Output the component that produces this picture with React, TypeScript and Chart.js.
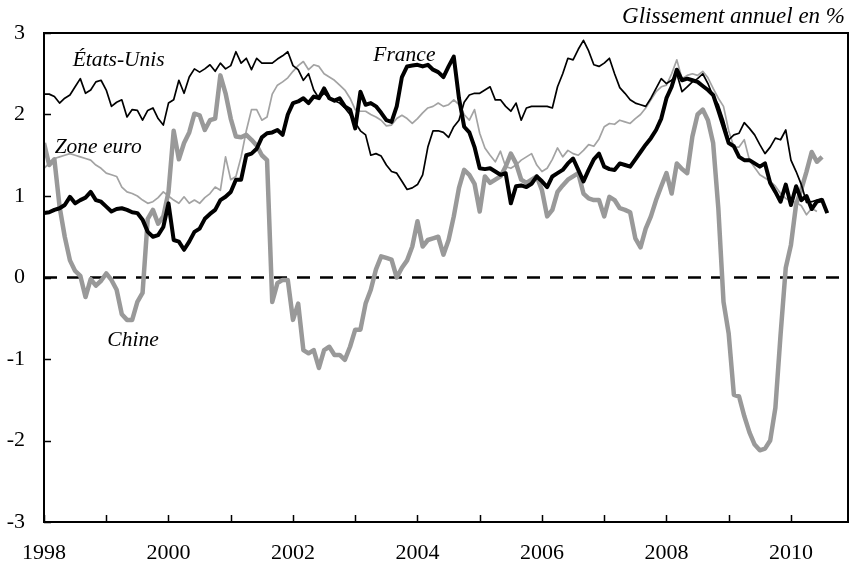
import React, { useEffect, useRef } from "react";
import { Chart, registerables } from "chart.js";

Chart.register(...registerables);

// ---- data (monthly, Jan 1998 onward) ----
const START_YEAR = 1998;
const AXIS_MAX_YEAR = 1998 + 155 / 12; // Dec 2010
const yearTicks = [1998, 1999, 2000, 2001, 2002, 2003, 2004, 2005, 2006, 2007, 2008, 2009, 2010];
const valueTicks = [-3, -2, -1, 0, 1, 2, 3];

const etatsUnis = [
  2.25, 2.25, 2.22, 2.14, 2.2, 2.24, 2.34, 2.44, 2.26, 2.3, 2.4, 2.42,
  2.3, 2.1, 2.15, 2.18, 1.97, 2.06, 2.05, 1.93, 2.05, 2.08, 1.95, 1.87,
  2.14, 2.18, 2.42, 2.26, 2.46, 2.56, 2.52, 2.56, 2.61, 2.53, 2.63, 2.56,
  2.6, 2.77, 2.63, 2.69, 2.55, 2.69, 2.63, 2.63, 2.63, 2.68, 2.72, 2.77,
  2.6, 2.55, 2.42, 2.5, 2.3, 2.2, 2.26, 2.2, 2.17, 2.14, 2.08, 2.0,
  1.9, 1.8, 1.75, 1.5, 1.52, 1.49, 1.38, 1.3, 1.28, 1.18, 1.08, 1.1,
  1.14, 1.26, 1.6, 1.8, 1.8, 1.78, 1.72, 1.85, 1.93, 2.15, 2.24, 2.26,
  2.26, 2.3, 2.34, 2.18, 2.18, 2.1, 2.04, 2.14, 1.93, 2.08, 2.1, 2.1,
  2.1, 2.1, 2.08, 2.34, 2.5, 2.69, 2.67, 2.8, 2.91, 2.78, 2.61, 2.59,
  2.63, 2.69, 2.5, 2.33, 2.26, 2.18, 2.14, 2.12, 2.1, 2.2, 2.32, 2.44,
  2.38, 2.42, 2.5, 2.28, 2.34, 2.4, 2.44, 2.5, 2.38, 2.22, 2.12, 1.93,
  1.69, 1.75, 1.77, 1.9, 1.83, 1.75, 1.63, 1.52, 1.6, 1.71, 1.69, 1.81,
  1.44, 1.3, 1.14, 0.92, 0.93, 0.95, 0.97, null,
];

const france = [
  0.79, 0.8, 0.83, 0.85, 0.89, 0.99, 0.91, 0.95, 0.98, 1.05, 0.95, 0.93,
  0.87, 0.81, 0.84, 0.85, 0.83, 0.8, 0.79, 0.71, 0.56, 0.5, 0.52, 0.62,
  0.91, 0.46, 0.44, 0.34, 0.44, 0.56, 0.6, 0.72, 0.78, 0.83, 0.95, 0.99,
  1.05, 1.2, 1.2, 1.5, 1.52, 1.58, 1.72, 1.77, 1.78, 1.81, 1.75, 2.0,
  2.14, 2.16, 2.2, 2.14, 2.22, 2.2, 2.32, 2.2, 2.17, 2.2, 2.1, 2.06,
  1.83, 2.28, 2.12, 2.14, 2.1, 2.02, 1.93, 1.91, 2.1, 2.46, 2.59, 2.6,
  2.61, 2.59, 2.61, 2.55, 2.52, 2.46, 2.59, 2.71, 2.2, 1.85, 1.78, 1.6,
  1.34, 1.33, 1.34, 1.3, 1.26, 1.28, 0.91, 1.12, 1.13, 1.11, 1.15, 1.24,
  1.18, 1.11, 1.24, 1.28, 1.32, 1.4, 1.46, 1.32, 1.18, 1.32, 1.45, 1.52,
  1.36, 1.33, 1.32, 1.4, 1.38, 1.36, 1.45, 1.54, 1.63, 1.71, 1.81, 1.95,
  2.2, 2.34, 2.55, 2.42, 2.44, 2.42, 2.4, 2.35, 2.3, 2.24, 2.05, 1.85,
  1.65, 1.61, 1.48, 1.44, 1.44, 1.4, 1.36, 1.4, 1.16, 1.05, 0.93, 1.14,
  0.89, 1.12, 0.95, 1.0, 0.84, 0.93, 0.95, 0.79,
];

const zoneEuro = [
  1.34, 1.4, 1.46, 1.48, 1.5, 1.52, 1.5, 1.48, 1.46, 1.44, 1.38, 1.34,
  1.28, 1.26, 1.24, 1.11, 1.05, 1.03, 1.0, 0.95, 0.91, 0.93, 0.98, 1.05,
  1.0, 0.95, 0.91, 0.99, 0.91, 0.95, 0.91, 0.98, 1.03, 1.11, 1.07, 1.48,
  1.2, 1.24, 1.48, 1.8, 2.06, 2.06, 1.93, 1.97, 2.25, 2.36, 2.4, 2.45,
  2.53, 2.6, 2.65, 2.55, 2.61, 2.59, 2.5, 2.46, 2.42, 2.36, 2.3, 2.2,
  2.06, 2.04, 2.04, 2.0, 1.97, 1.93, 1.86, 1.87, 1.95, 1.99, 1.95, 1.89,
  1.95, 2.02, 2.08, 2.1, 2.14, 2.1, 2.12, 2.18, 2.12, 2.0, 1.93, 2.06,
  1.77, 1.59, 1.5, 1.42, 1.55, 1.36, 1.34, 1.38, 1.44, 1.48, 1.52, 1.38,
  1.3, 1.34, 1.45, 1.59, 1.48, 1.56, 1.52, 1.5, 1.56, 1.63, 1.61, 1.7,
  1.85, 1.89, 1.88, 1.93, 1.91, 1.89, 1.95, 2.0, 2.08, 2.18, 2.28, 2.34,
  2.36, 2.5, 2.67, 2.44, 2.48, 2.5, 2.48, 2.53, 2.45, 2.32, 2.2, 2.1,
  1.8, 1.6, 1.6, 1.69, 1.44, 1.35, 1.26, 1.22, 1.18, 1.12, 1.03, 0.97,
  0.94, 0.92, 0.88, 0.77, 0.85, 0.81, null, null,
];

const chine = [
  1.65, 1.38, 1.45, 0.87, 0.5, 0.21, 0.08, 0.02, -0.24, -0.02, -0.1, -0.04,
  0.05, -0.03, -0.15, -0.45, -0.52, -0.52, -0.3, -0.19, 0.72, 0.83, 0.66, 0.75,
  1.05, 1.8, 1.45, 1.65, 1.78, 2.01, 1.99, 1.81, 1.93, 1.95, 2.48, 2.26,
  1.95, 1.73, 1.72, 1.75, 1.69, 1.62, 1.5, 1.44, -0.3, -0.07, -0.03, -0.03,
  -0.52, -0.32, -0.89, -0.93, -0.89, -1.11, -0.89, -0.85, -0.95, -0.95, -1.01, -0.85,
  -0.64, -0.64, -0.32, -0.15, 0.1, 0.26, 0.24, 0.22, 0.0, 0.12, 0.21, 0.38,
  0.69, 0.38, 0.46, 0.48, 0.5, 0.28, 0.46, 0.75, 1.1, 1.32, 1.26, 1.15,
  0.81, 1.24, 1.16, 1.2, 1.24, 1.36, 1.52, 1.4, 1.2, 1.16, 1.2, 1.24,
  1.07, 0.75, 0.83, 1.05, 1.13, 1.2, 1.24, 1.28, 1.03, 0.97, 0.95, 0.95,
  0.75, 0.99, 0.95, 0.85, 0.83, 0.8, 0.48, 0.37, 0.6, 0.75, 0.95, 1.12,
  1.28, 1.03, 1.4, 1.33, 1.28, 1.73, 2.0, 2.06, 1.93, 1.65, 0.85, -0.3,
  -0.69, -1.44, -1.46, -1.7, -1.9, -2.05, -2.12, -2.1, -2.0, -1.6, -0.7, 0.12,
  0.4, 0.9, 1.08, 1.3, 1.54, 1.42, 1.48, null,
];

const seriesNames = ["États-Unis", "France", "Zone euro", "Chine"];
const unitLabel = "Glissement annuel en %";

// label anchors in data coordinates (year, value)
const nameAnchors = [
  { x: 1999.2, y: 2.67 },
  { x: 2003.79, y: 2.72 },
  { x: 1998.87, y: 1.6 },
  { x: 1999.43, y: -0.77 },
];

const SERIF = "'Liberation Serif', 'Times New Roman', serif";

const toPoints = (arr: (number | null)[]) =>
  arr.map((v, i) => ({ x: START_YEAR + i / 12, y: v }));

const decorPlugin = {
  id: "decor",
  beforeDatasetsDraw(chart: any) {
    const { ctx, chartArea, scales } = chart;
    const y0 = scales.y.getPixelForValue(0);
    ctx.save();
    ctx.strokeStyle = "#000";
    ctx.lineWidth = 2.5;
    ctx.setLineDash([13, 10]);
    ctx.beginPath();
    ctx.moveTo(chartArea.left, y0);
    ctx.lineTo(chartArea.right, y0);
    ctx.stroke();
    ctx.restore();
  },
  afterDatasetsDraw(chart: any) {
    const { ctx, chartArea, scales } = chart;
    const { left, right, top, bottom } = chartArea;
    ctx.save();
    ctx.strokeStyle = "#000";
    ctx.lineWidth = 2;
    ctx.setLineDash([]);
    ctx.strokeRect(left, top, right - left, bottom - top);
    ctx.lineWidth = 1.5;
    ctx.beginPath();
    for (const yr of yearTicks) {
      const px = Math.round(scales.x.getPixelForValue(yr)) + 0.5;
      ctx.moveTo(px, bottom);
      ctx.lineTo(px, bottom - 7);
    }
    for (const v of valueTicks) {
      const py = Math.round(scales.y.getPixelForValue(v)) + 0.5;
      ctx.moveTo(left, py);
      ctx.lineTo(left + 7, py);
    }
    ctx.stroke();

    ctx.fillStyle = "#000";
    ctx.font = `italic 21.5px ${SERIF}`;
    ctx.textAlign = "center";
    ctx.textBaseline = "middle";
    seriesNames.forEach((name, i) => {
      const a = nameAnchors[i];
      ctx.fillText(name, scales.x.getPixelForValue(a.x), scales.y.getPixelForValue(a.y));
    });
    ctx.font = `italic 23px ${SERIF}`;
    ctx.textAlign = "right";
    ctx.fillText(unitLabel, chart.width - 8, 17);
    ctx.restore();
  },
};

export default function App() {
  const canvasRef = useRef<HTMLCanvasElement | null>(null);

  useEffect(() => {
    document.body.style.margin = "0";
    const canvas = canvasRef.current;
    if (!canvas) return;
    const chart = new Chart(canvas, {
      type: "line",
      data: {
        datasets: [
          {
            label: seriesNames[1],
            data: toPoints(france),
            borderColor: "#000000",
            borderWidth: 4,
            order: 1,
          },
          {
            label: seriesNames[0],
            data: toPoints(etatsUnis),
            borderColor: "#000000",
            borderWidth: 1.7,
            order: 2,
          },
          {
            label: seriesNames[3],
            data: toPoints(chine),
            borderColor: "#999999",
            borderWidth: 4.5,
            order: 3,
          },
          {
            label: seriesNames[2],
            data: toPoints(zoneEuro),
            borderColor: "#a3a3a3",
            borderWidth: 1.7,
            order: 4,
          },
        ] as any,
      },
      options: {
        animation: false,
        responsive: false,
        devicePixelRatio: 1,
        layout: { padding: { left: 0, right: 5, top: 33, bottom: 0 } },
        elements: {
          point: { radius: 0, hoverRadius: 0 },
          line: { tension: 0, borderJoinStyle: "round", borderCapStyle: "butt", fill: false },
        },
        plugins: {
          legend: { display: false },
          tooltip: { enabled: false },
          title: { display: false },
        },
        events: [],
        scales: {
          x: {
            type: "linear",
            min: START_YEAR,
            max: AXIS_MAX_YEAR,
            afterBuildTicks: (scale: any) => {
              scale.ticks = yearTicks.map((v) => ({ value: v }));
            },
            afterFit: (scale: any) => {
              scale.height = 49;
            },
            grid: { display: false, drawTicks: false },
            border: { display: false },
            ticks: {
              autoSkip: false,
              maxRotation: 0,
              padding: 18,
              color: "#000",
              font: { family: SERIF, size: 22 },
              callback: (v: any) => (Number(v) % 2 === 0 ? String(v) : ""),
            },
          },
          y: {
            type: "linear",
            min: -3,
            max: 3,
            afterBuildTicks: (scale: any) => {
              scale.ticks = valueTicks.map((v) => ({ value: v }));
            },
            afterFit: (scale: any) => {
              scale.width = 44;
            },
            grid: { display: false, drawTicks: false },
            border: { display: false },
            ticks: {
              padding: 19,
              color: "#000",
              font: { family: SERIF, size: 22 },
              callback: (v: any) => String(v),
            },
          },
        },
      } as any,
      plugins: [decorPlugin],
    });
    return () => chart.destroy();
  }, []);

  return (
    <div style={{ width: 853, height: 571 }}>
      <canvas ref={canvasRef} width={853} height={571} style={{ width: 853, height: 571, display: "block" }} />
    </div>
  );
}
